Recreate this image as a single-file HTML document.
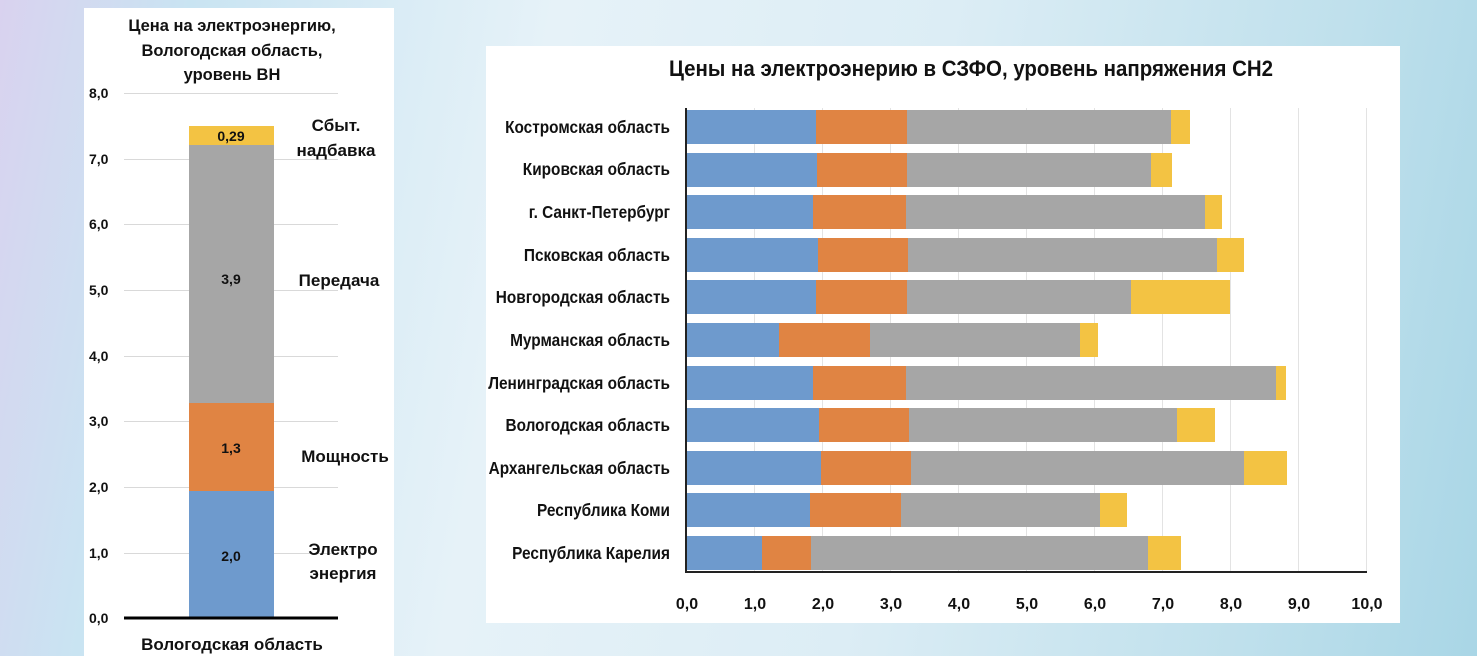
<!DOCTYPE html>
<html><head><meta charset="utf-8"><style>
html,body{margin:0;padding:0}
body{width:1477px;height:656px;overflow:hidden;position:relative;background:linear-gradient(100deg,#d9d2ef 0%,#c9e4f2 12%,#e6f2f8 35%,#dcedf5 60%,#bfe0ec 85%,#a9d6e6 100%)}
svg{position:absolute;left:0;top:0}
text{font-family:"Liberation Sans",Arial,sans-serif;font-weight:bold;fill:#111}
</style></head><body>
<svg width="1477" height="656" viewBox="0 0 1477 656">
<rect x="84" y="8" width="310" height="648" fill="#fff"/>
<rect x="486" y="46" width="914" height="577" fill="#fff"/>
<g font-size="16.5">
<text x="232" y="31" text-anchor="middle">Цена на электроэнергию,</text>
<text x="232" y="56" text-anchor="middle">Вологодская область,</text>
<text x="232" y="80" text-anchor="middle">уровень ВН</text>
</g>
<g stroke="#d9d9d9" stroke-width="1">
<line x1="124" y1="93.5" x2="338" y2="93.5"/><line x1="124" y1="159.5" x2="338" y2="159.5"/>
<line x1="124" y1="224.5" x2="338" y2="224.5"/><line x1="124" y1="290.5" x2="338" y2="290.5"/>
<line x1="124" y1="356.5" x2="338" y2="356.5"/><line x1="124" y1="421.5" x2="338" y2="421.5"/>
<line x1="124" y1="487.5" x2="338" y2="487.5"/><line x1="124" y1="553.5" x2="338" y2="553.5"/>
</g>
<g font-size="14" text-anchor="start">
<text x="89" y="98">8,0</text><text x="89" y="164">7,0</text><text x="89" y="229">6,0</text><text x="89" y="295">5,0</text>
<text x="89" y="361">4,0</text><text x="89" y="426">3,0</text><text x="89" y="492">2,0</text><text x="89" y="558">1,0</text><text x="89" y="623">0,0</text>
</g>
<rect x="189" y="491" width="85" height="127" fill="#6e9acd"/>
<rect x="189" y="403" width="85" height="88" fill="#e08443"/>
<rect x="189" y="145" width="85" height="258" fill="#a6a6a6"/>
<rect x="189" y="126" width="85" height="19" fill="#f3c343"/>
<line x1="124" y1="618" x2="338" y2="618" stroke="#000" stroke-width="3"/>
<g font-size="14" text-anchor="middle">
<text x="231" y="141">0,29</text><text x="231" y="284">3,9</text><text x="231" y="453">1,3</text><text x="231" y="561">2,0</text>
</g>
<g font-size="17" text-anchor="middle">
<text x="336" y="131">Сбыт.</text><text x="336" y="156">надбавка</text>
<text x="339" y="286">Передача</text><text x="345" y="462">Мощность</text>
<text x="343" y="555">Электро</text><text x="343" y="579">энергия</text>
<text x="232" y="650">Вологодская область</text>
</g>
<text x="971" y="76" font-size="22" text-anchor="middle" transform="translate(971 0) scale(0.93 1) translate(-971 0)">Цены на электроэнерию в СЗФО, уровень напряжения СН2</text>
<g stroke="#e3e3e3" stroke-width="1">
<line x1="754.5" y1="108" x2="754.5" y2="572"/><line x1="822.5" y1="108" x2="822.5" y2="572"/>
<line x1="890.5" y1="108" x2="890.5" y2="572"/><line x1="958.5" y1="108" x2="958.5" y2="572"/>
<line x1="1026.5" y1="108" x2="1026.5" y2="572"/><line x1="1094.5" y1="108" x2="1094.5" y2="572"/>
<line x1="1162.5" y1="108" x2="1162.5" y2="572"/><line x1="1230.5" y1="108" x2="1230.5" y2="572"/>
<line x1="1298.5" y1="108" x2="1298.5" y2="572"/><line x1="1366.5" y1="108" x2="1366.5" y2="572"/>
</g>
<g>
<rect x="687" y="110" width="129" height="34" fill="#6e9acd"/><rect x="816" y="110" width="91" height="34" fill="#e08443"/><rect x="907" y="110" width="264" height="34" fill="#a6a6a6"/><rect x="1171" y="110" width="19" height="34" fill="#f3c343"/>
<rect x="687" y="153" width="130" height="34" fill="#6e9acd"/><rect x="817" y="153" width="90" height="34" fill="#e08443"/><rect x="907" y="153" width="244" height="34" fill="#a6a6a6"/><rect x="1151" y="153" width="21" height="34" fill="#f3c343"/>
<rect x="687" y="195" width="126" height="34" fill="#6e9acd"/><rect x="813" y="195" width="93" height="34" fill="#e08443"/><rect x="906" y="195" width="299" height="34" fill="#a6a6a6"/><rect x="1205" y="195" width="17" height="34" fill="#f3c343"/>
<rect x="687" y="238" width="131" height="34" fill="#6e9acd"/><rect x="818" y="238" width="90" height="34" fill="#e08443"/><rect x="908" y="238" width="309" height="34" fill="#a6a6a6"/><rect x="1217" y="238" width="27" height="34" fill="#f3c343"/>
<rect x="687" y="280" width="129" height="34" fill="#6e9acd"/><rect x="816" y="280" width="91" height="34" fill="#e08443"/><rect x="907" y="280" width="224" height="34" fill="#a6a6a6"/><rect x="1131" y="280" width="99" height="34" fill="#f3c343"/>
<rect x="687" y="323" width="92" height="34" fill="#6e9acd"/><rect x="779" y="323" width="91" height="34" fill="#e08443"/><rect x="870" y="323" width="210" height="34" fill="#a6a6a6"/><rect x="1080" y="323" width="18" height="34" fill="#f3c343"/>
<rect x="687" y="366" width="126" height="34" fill="#6e9acd"/><rect x="813" y="366" width="93" height="34" fill="#e08443"/><rect x="906" y="366" width="370" height="34" fill="#a6a6a6"/><rect x="1276" y="366" width="10" height="34" fill="#f3c343"/>
<rect x="687" y="408" width="132" height="34" fill="#6e9acd"/><rect x="819" y="408" width="90" height="34" fill="#e08443"/><rect x="909" y="408" width="268" height="34" fill="#a6a6a6"/><rect x="1177" y="408" width="38" height="34" fill="#f3c343"/>
<rect x="687" y="451" width="134" height="34" fill="#6e9acd"/><rect x="821" y="451" width="90" height="34" fill="#e08443"/><rect x="911" y="451" width="333" height="34" fill="#a6a6a6"/><rect x="1244" y="451" width="43" height="34" fill="#f3c343"/>
<rect x="687" y="493" width="123" height="34" fill="#6e9acd"/><rect x="810" y="493" width="91" height="34" fill="#e08443"/><rect x="901" y="493" width="199" height="34" fill="#a6a6a6"/><rect x="1100" y="493" width="27" height="34" fill="#f3c343"/>
<rect x="687" y="536" width="75" height="34" fill="#6e9acd"/><rect x="762" y="536" width="49" height="34" fill="#e08443"/><rect x="811" y="536" width="337" height="34" fill="#a6a6a6"/><rect x="1148" y="536" width="33" height="34" fill="#f3c343"/>
</g>
<line x1="686" y1="108" x2="686" y2="573" stroke="#222" stroke-width="2"/>
<line x1="686" y1="572" x2="1367" y2="572" stroke="#222" stroke-width="2"/>
<g font-size="16" text-anchor="middle">
<text x="687" y="609">0,0</text><text x="755" y="609">1,0</text><text x="823" y="609">2,0</text><text x="891" y="609">3,0</text>
<text x="959" y="609">4,0</text><text x="1027" y="609">5,0</text><text x="1095" y="609">6,0</text><text x="1163" y="609">7,0</text>
<text x="1231" y="609">8,0</text><text x="1299" y="609">9,0</text><text x="1367" y="609">10,0</text>
</g>
<g font-size="17.5" text-anchor="end" transform="translate(670 0) scale(0.88 1) translate(-670 0)">
<text x="670" y="133">Костромская область</text>
<text x="670" y="175">Кировская область</text>
<text x="670" y="218">г. Санкт-Петербург</text>
<text x="670" y="261">Псковская область</text>
<text x="670" y="303">Новгородская область</text>
<text x="670" y="346">Мурманская область</text>
<text x="670" y="389">Ленинградская область</text>
<text x="670" y="431">Вологодская область</text>
<text x="670" y="474">Архангельская область</text>
<text x="670" y="516">Республика Коми</text>
<text x="670" y="559">Республика Карелия</text>
</g>
</svg>
</body></html>
